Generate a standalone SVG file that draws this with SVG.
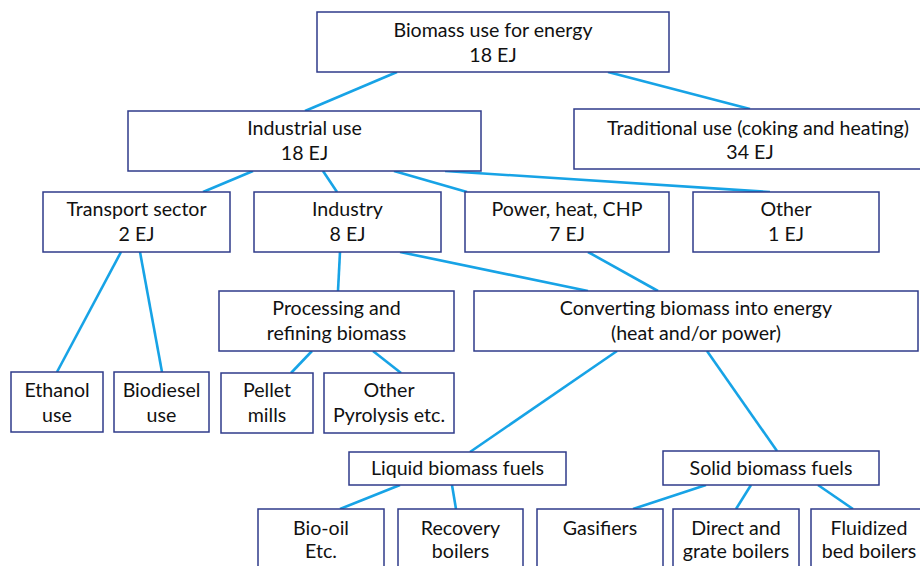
<svg xmlns="http://www.w3.org/2000/svg" width="920" height="566" viewBox="0 0 920 566">
<style>
.box{fill:#fff;stroke:#2f3b8a;stroke-width:1.5}
.t{font-family:Lato,"Liberation Sans",sans-serif;font-size:19.6px;fill:#111;text-anchor:middle}
.c line{stroke:#17a3e6;stroke-width:2.6;stroke-linecap:butt}
</style>
<rect width="920" height="566" fill="#fff"/>
<g class="c" id="connectors">
<line x1="397" y1="72" x2="305" y2="111"/>
<line x1="608" y1="72" x2="750" y2="109"/>
<line x1="253" y1="171" x2="203" y2="192"/>
<line x1="323" y1="171" x2="337" y2="192"/>
<line x1="394" y1="171" x2="467" y2="192"/>
<line x1="445" y1="171" x2="770" y2="192"/>
<line x1="121" y1="252" x2="57" y2="372"/>
<line x1="140" y1="252" x2="162" y2="372"/>
<line x1="340" y1="252" x2="338" y2="291"/>
<line x1="400" y1="252" x2="588" y2="291"/>
<line x1="588" y1="252" x2="658" y2="291"/>
<line x1="312" y1="351" x2="291" y2="373"/>
<line x1="373" y1="351" x2="401" y2="373"/>
<line x1="617" y1="351" x2="470" y2="452"/>
<line x1="707" y1="351" x2="777" y2="451"/>
<line x1="400" y1="485" x2="340" y2="509"/>
<line x1="452" y1="485" x2="456" y2="509"/>
<line x1="706" y1="485" x2="633" y2="509"/>
<line x1="751" y1="485" x2="736" y2="509"/>
<line x1="818" y1="485" x2="853" y2="509"/>
</g>
<g id="n-biomass"><rect class="box" x="317" y="12" width="352" height="60"/><text class="t" x="493" y="37">Biomass use for energy</text><text class="t" x="493" y="62">18 EJ</text></g>
<g id="n-industrial"><rect class="box" x="128" y="111" width="353" height="60"/><text class="t" x="304.5" y="135">Industrial use</text><text class="t" x="304.5" y="160">18 EJ</text></g>
<g id="n-traditional"><rect class="box" x="574" y="109" width="370" height="60"/><text class="t" x="758" y="135">Traditional use (coking and heating)</text><text class="t" x="750" y="159">34 EJ</text></g>
<g id="n-transport"><rect class="box" x="43" y="192" width="187" height="60"/><text class="t" x="136.5" y="216">Transport sector</text><text class="t" x="136.5" y="241">2 EJ</text></g>
<g id="n-industry"><rect class="box" x="254" y="192" width="187" height="60"/><text class="t" x="347.5" y="216">Industry</text><text class="t" x="347.5" y="241">8 EJ</text></g>
<g id="n-power"><rect class="box" x="465" y="192" width="204" height="60"/><text class="t" x="567" y="216">Power, heat, CHP</text><text class="t" x="567" y="241">7 EJ</text></g>
<g id="n-other"><rect class="box" x="693" y="192" width="186" height="60"/><text class="t" x="786" y="216">Other</text><text class="t" x="786" y="241">1 EJ</text></g>
<g id="n-processing"><rect class="box" x="219" y="291" width="235" height="60"/><text class="t" x="336.5" y="315">Processing and</text><text class="t" x="336.5" y="340">refining biomass</text></g>
<g id="n-converting"><rect class="box" x="474" y="291" width="444" height="60"/><text class="t" x="696" y="315">Converting biomass into energy</text><text class="t" x="696" y="340">(heat and/or power)</text></g>
<g id="n-ethanol"><rect class="box" x="11" y="372" width="92" height="60"/><text class="t" x="57" y="397">Ethanol</text><text class="t" x="57" y="422">use</text></g>
<g id="n-biodiesel"><rect class="box" x="114" y="372" width="95" height="60"/><text class="t" x="161.5" y="397">Biodiesel</text><text class="t" x="161.5" y="422">use</text></g>
<g id="n-pellet"><rect class="box" x="221" y="373" width="92" height="60"/><text class="t" x="267" y="397">Pellet</text><text class="t" x="267" y="422">mills</text></g>
<g id="n-otherpyro"><rect class="box" x="324" y="373" width="130" height="60"/><text class="t" x="389" y="397">Other</text><text class="t" x="389" y="422">Pyrolysis etc.</text></g>
<g id="n-liquid"><rect class="box" x="349" y="452" width="217" height="33"/><text class="t" x="457.5" y="475">Liquid biomass fuels</text></g>
<g id="n-solid"><rect class="box" x="663" y="451" width="216" height="34"/><text class="t" x="771" y="475">Solid biomass fuels</text></g>
<g id="n-biooil"><rect class="box" x="258" y="509" width="126" height="65"/><text class="t" x="321" y="535">Bio-oil</text><text class="t" x="321" y="558">Etc.</text></g>
<g id="n-recovery"><rect class="box" x="398" y="509" width="125" height="65"/><text class="t" x="460.5" y="535">Recovery</text><text class="t" x="460.5" y="558">boilers</text></g>
<g id="n-gasifiers"><rect class="box" x="537" y="509" width="126" height="65"/><text class="t" x="600" y="535">Gasifiers</text></g>
<g id="n-direct"><rect class="box" x="673" y="509" width="126" height="65"/><text class="t" x="736" y="535">Direct and</text><text class="t" x="736" y="558">grate boilers</text></g>
<g id="n-fluidized"><rect class="box" x="811" y="509" width="116" height="65"/><text class="t" x="869" y="535">Fluidized</text><text class="t" x="869" y="558">bed boilers</text></g>
</svg>
